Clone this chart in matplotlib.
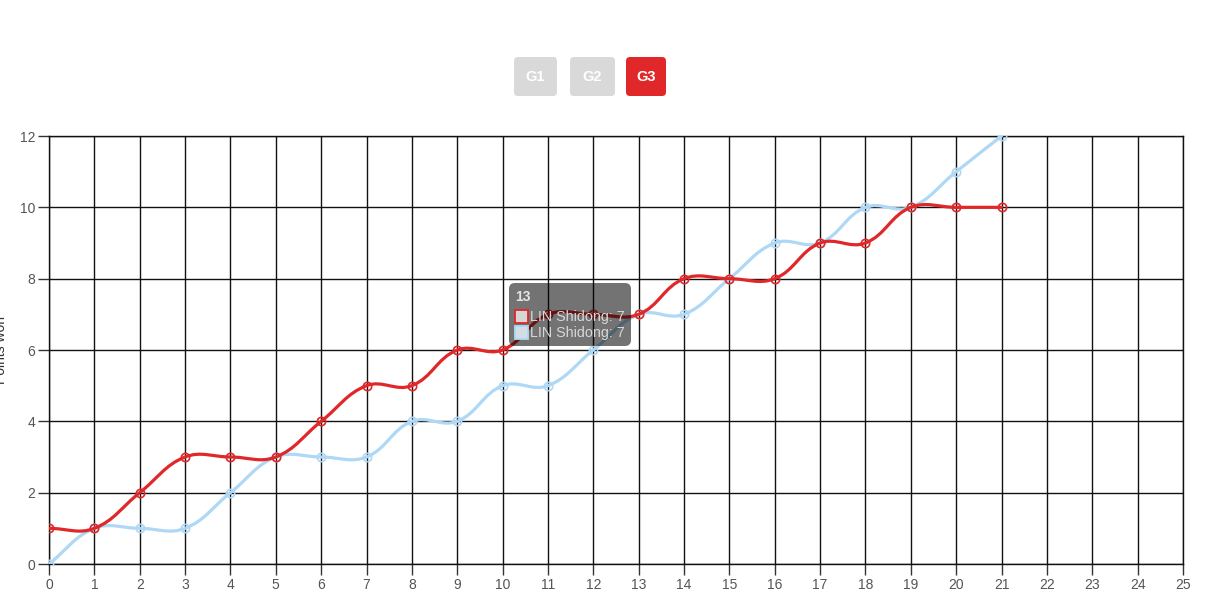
import numpy as np
from matplotlib import pyplot as plt
from matplotlib.path import Path
from matplotlib.patches import PathPatch, FancyBboxPatch, Rectangle

plt.rcParams['font.family'] = ['Liberation Sans', 'DejaVu Sans']

# points won after each rally, game 3
rallies = list(range(22))
points_red = [1, 1, 2, 3, 3, 3, 4, 5, 5, 6, 6, 7, 7, 7, 8, 8, 8, 9, 9, 10, 10, 10]
points_blue = [0, 1, 1, 1, 2, 3, 3, 3, 4, 4, 5, 5, 6, 7, 7, 8, 9, 9, 10, 10, 11, 12]
x_ticks = list(range(26))
y_ticks = [0, 2, 4, 6, 8, 10, 12]
game_buttons = ['G1', 'G2', 'G3']
active_game = 'G3'
tooltip_title = '13'
tooltip_labels = ['LIN Shidong: 7', 'LIN Shidong: 7']
y_label = 'Points won'

RED = '#e0282a'
BLUE = '#aed8f5'
GREY_BUTTON = '#d9d9d9'
TICK_COLOR = '#555555'


def spline_path(ax, xs, ys, tension=0.4):
    """Bezier path through the points, same control points as a chart.js line."""
    pts = ax.transData.transform(np.column_stack([xs, ys]))
    n = len(pts)
    before, after = [], []
    for i in range(n):
        prev = pts[max(i - 1, 0)]
        cur = pts[i]
        nxt = pts[min(i + 1, n - 1)]
        d01 = np.hypot(*(cur - prev))
        d12 = np.hypot(*(nxt - cur))
        total = d01 + d12
        s01 = d01 / total if total else 0
        s12 = d12 / total if total else 0
        before.append(cur - tension * s01 * (nxt - prev))
        after.append(cur + tension * s12 * (nxt - prev))
    verts = [pts[0]]
    codes = [Path.MOVETO]
    for i in range(1, n):
        verts += [after[i - 1], before[i], pts[i]]
        codes += [Path.CURVE4] * 3
    verts = ax.transData.inverted().transform(np.array(verts))
    return Path(verts, codes)


def draw_series(ax, xs, ys, color, z):
    ax.add_patch(PathPatch(spline_path(ax, xs, ys), facecolor='none', edgecolor=color,
                           lw=2.3, zorder=z, capstyle='round', joinstyle='round'))
    ax.plot(xs, ys, 'o', ms=6, mfc='none', mec=color, mew=1.2, zorder=z + 0.1)


def draw_buttons(overlay):
    lefts = [514, 570, 626]
    widths = [43, 45, 40]
    for name, left, width in zip(game_buttons, lefts, widths):
        color = RED if name == active_game else GREY_BUTTON
        overlay.add_patch(FancyBboxPatch((left, 57), width, 39,
                                         boxstyle='round,pad=0,rounding_size=4',
                                         facecolor=color, edgecolor='none'))
        overlay.text(left + width / 2, 77, name, ha='center', va='center',
                     color='white', fontsize=10.5, fontweight='bold')


def draw_tooltip(overlay):
    overlay.add_patch(FancyBboxPatch((509, 283), 122, 63,
                                     boxstyle='round,pad=0,rounding_size=6',
                                     facecolor=(0, 0, 0, 0.55), edgecolor='none', zorder=5))
    overlay.text(515, 297, tooltip_title, ha='left', va='center', color='#e4e4e4',
                 fontsize=10, fontweight='bold', zorder=6)
    box_styles = [('#d6d6d6', RED), ('#d2dde6', BLUE)]
    for i, (label, (fill, edge)) in enumerate(zip(tooltip_labels, box_styles)):
        y = 316 + i * 16
        overlay.add_patch(Rectangle((515, y - 6.5), 13, 13, facecolor=fill,
                                    edgecolor=edge, lw=1.3, zorder=6))
        overlay.text(530, y + 0.5, label, ha='left', va='center', color='#d8d8d8',
                     fontsize=10.3, zorder=6)


fig = plt.figure(figsize=(12.05, 6.04), dpi=100)
ax = fig.add_axes([49 / 1205, 40 / 604, 1134 / 1205, 428 / 604])
ax.set_xlim(0, 25)
ax.set_ylim(0, 12)
ax.set_xticks(x_ticks)
ax.set_yticks(y_ticks)
ax.grid(True, color='#111111', lw=1)
ax.set_axisbelow(True)
for spine in ax.spines.values():
    spine.set_color('#111111')
    spine.set_linewidth(1)
ax.tick_params(length=8, width=1, color='#333333', labelcolor=TICK_COLOR,
               labelsize=10, pad=2)

draw_series(ax, rallies, points_blue, BLUE, 3)
draw_series(ax, rallies, points_red, RED, 4)

overlay = fig.add_axes([0, 0, 1, 1], zorder=10)
overlay.set_xlim(0, 1205)
overlay.set_ylim(604, 0)
overlay.axis('off')
overlay.patch.set_alpha(0)

draw_buttons(overlay)
draw_tooltip(overlay)
overlay.text(8, 350, y_label, rotation=90, ha='right', va='center',
             color='#333333', fontsize=10)

fig.savefig('out.png', dpi=100)
